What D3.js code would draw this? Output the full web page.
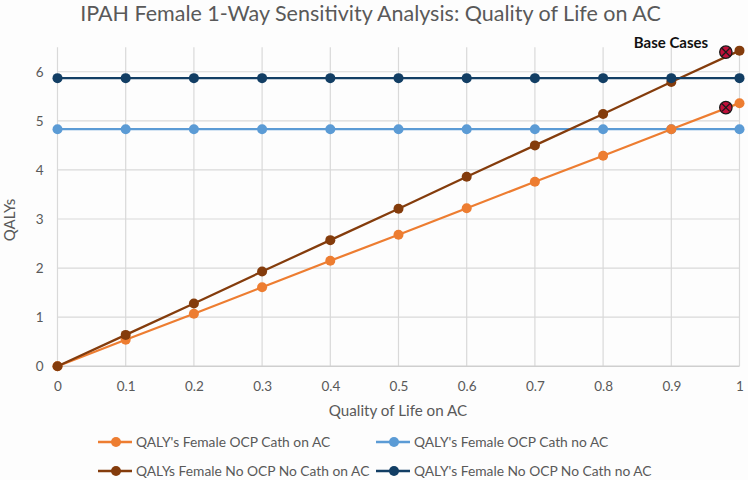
<!DOCTYPE html>
<html><head><meta charset="utf-8">
<script src="https://cdn.jsdelivr.net/npm/d3@7"></script>
<style>body{margin:0;background:#fdfdfd;} svg{display:block;font-family:Lato, "Open Sans", sans-serif;}</style>
</head><body>
<svg id="c" width="748" height="480"></svg>
<script>
const xValues = [0, 0.1, 0.2, 0.3, 0.4, 0.5, 0.6, 0.7, 0.8, 0.9, 1];
const ocpCathOnAC = [0, 0.54, 1.07, 1.61, 2.15, 2.68, 3.22, 3.76, 4.29, 4.83, 5.36];
const ocpCathNoAC = [4.83, 4.83, 4.83, 4.83, 4.83, 4.83, 4.83, 4.83, 4.83, 4.83, 4.83];
const noOcpOnAC = [0, 0.64, 1.28, 1.93, 2.57, 3.21, 3.86, 4.50, 5.14, 5.79, 6.43];
const noOcpNoAC = [5.87, 5.87, 5.87, 5.87, 5.87, 5.87, 5.87, 5.87, 5.87, 5.87, 5.87];
const seriesNames = ["QALY's Female OCP Cath on AC", "QALY's Female OCP Cath no AC", "QALYs Female No OCP No Cath on AC", "QALY's Female No OCP No Cath no AC"];
const seriesColors = ["#ED7D31", "#5B9BD5", "#843C0C", "#123E64"];
const baseCaseX = [0.98, 0.98];
const baseCaseY = [6.40, 5.27];
const xTicks = [0, 0.1, 0.2, 0.3, 0.4, 0.5, 0.6, 0.7, 0.8, 0.9, 1];
const yTicks = [0, 1, 2, 3, 4, 5, 6];
const title = "IPAH Female 1-Way Sensitivity Analysis: Quality of Life on AC";
const xTitle = "Quality of Life on AC";
const yTitle = "QALYs";
const baseLabel = "Base Cases";

const svg = d3.select("#c");
const x = d3.scaleLinear().domain([0, 1]).range([57.5, 739.5]);
const y = d3.scaleLinear().domain([0, 6.5]).range([366.3, 47.2]);
const textCol = "#595959";

svg.append("rect").attr("width", 748).attr("height", 480).attr("fill", "#fdfdfd");

// grid
svg.append("g").selectAll("line").data(yTicks.slice(1)).join("line")
  .attr("x1", x(0)).attr("x2", x(1)).attr("y1", d => y(d)).attr("y2", d => y(d))
  .attr("stroke", "#d9d9d9").attr("stroke-width", 1.2);
svg.append("g").selectAll("line").data(xTicks).join("line")
  .attr("x1", d => x(d)).attr("x2", d => x(d)).attr("y1", y(0)).attr("y2", y(6.5))
  .attr("stroke", "#d9d9d9").attr("stroke-width", 1.2);
svg.append("line").attr("x1", x(0)).attr("x2", x(1)).attr("y1", y(0)).attr("y2", y(0))
  .attr("stroke", "#cfcfcf").attr("stroke-width", 1.5);

// axes
const xAxis = svg.append("g").attr("transform", `translate(0,${y(0)})`)
  .call(d3.axisBottom(x).tickValues(xTicks).tickFormat(d3.format("~g")).tickSize(0).tickPadding(15));
const yAxis = svg.append("g").attr("transform", `translate(${x(0)},0)`)
  .call(d3.axisLeft(y).tickValues(yTicks).tickFormat(d3.format("d")).tickSize(0).tickPadding(14));
[xAxis, yAxis].forEach(a => {
  a.select(".domain").remove();
  a.selectAll("text").attr("fill", textCol).style("font-size", "13.5px").style("font-family", "Lato, sans-serif");
});

// titles
svg.append("text").attr("x", 370.5).attr("y", 20.5).attr("text-anchor", "middle")
  .attr("fill", textCol).style("font-size", "21.5px").text(title);
svg.append("text").attr("x", 398).attr("y", 415.5).attr("text-anchor", "middle")
  .attr("fill", textCol).style("font-size", "15.2px").text(xTitle);
svg.append("text").attr("transform", "translate(15,220) rotate(-90)").attr("text-anchor", "middle")
  .attr("fill", textCol).style("font-size", "15px").text(yTitle);

// series
const seriesData = [ocpCathOnAC, ocpCathNoAC, noOcpOnAC, noOcpNoAC];
const drawOrder = [1, 0, 2, 3];
const line = d3.line().x((d, i) => x(xValues[i])).y(d => y(d));
drawOrder.forEach(si => {
  const g = svg.append("g");
  g.append("path").datum(seriesData[si]).attr("d", line).attr("fill", "none")
    .attr("stroke", seriesColors[si]).attr("stroke-width", 2.25);
  g.selectAll("circle").data(seriesData[si]).join("circle")
    .attr("cx", (d, i) => x(xValues[i])).attr("cy", d => y(d)).attr("r", 5)
    .attr("fill", seriesColors[si]);
});

// base cases
const bc = svg.append("g");
baseCaseY.forEach((v, i) => {
  const cx = x(baseCaseX[i]), cy = y(v), r = 6.2;
  bc.append("circle").attr("cx", cx).attr("cy", cy).attr("r", r)
    .attr("fill", "#C0103A").attr("stroke", "#1a1a1a").attr("stroke-width", 1.3);
  const k = r * 0.62;
  bc.append("line").attr("x1", cx - k).attr("y1", cy - k).attr("x2", cx + k).attr("y2", cy + k)
    .attr("stroke", "#1a1a1a").attr("stroke-width", 1.2);
  bc.append("line").attr("x1", cx - k).attr("y1", cy + k).attr("x2", cx + k).attr("y2", cy - k)
    .attr("stroke", "#1a1a1a").attr("stroke-width", 1.2);
});
svg.append("text").attr("x", 671).attr("y", 48).attr("text-anchor", "middle")
  .attr("fill", "#111").style("font-weight", "bold").style("font-size", "15px").text(baseLabel);

// legend
const legPos = [[98, 442], [376, 442], [98, 471], [376, 471]];
seriesNames.forEach((n, i) => {
  const [lx, ly] = legPos[i];
  const g = svg.append("g").attr("transform", `translate(${lx},${ly})`);
  g.append("line").attr("x1", 0).attr("x2", 34).attr("y1", 0).attr("y2", 0)
    .attr("stroke", seriesColors[i]).attr("stroke-width", 2.5);
  g.append("circle").attr("cx", 18).attr("cy", 0).attr("r", 5).attr("fill", seriesColors[i]);
  g.append("text").attr("x", 38).attr("y", 0).attr("dy", "0.35em")
    .attr("fill", textCol).style("font-size", "13.8px").text(n);
});
</script>
</body></html>
